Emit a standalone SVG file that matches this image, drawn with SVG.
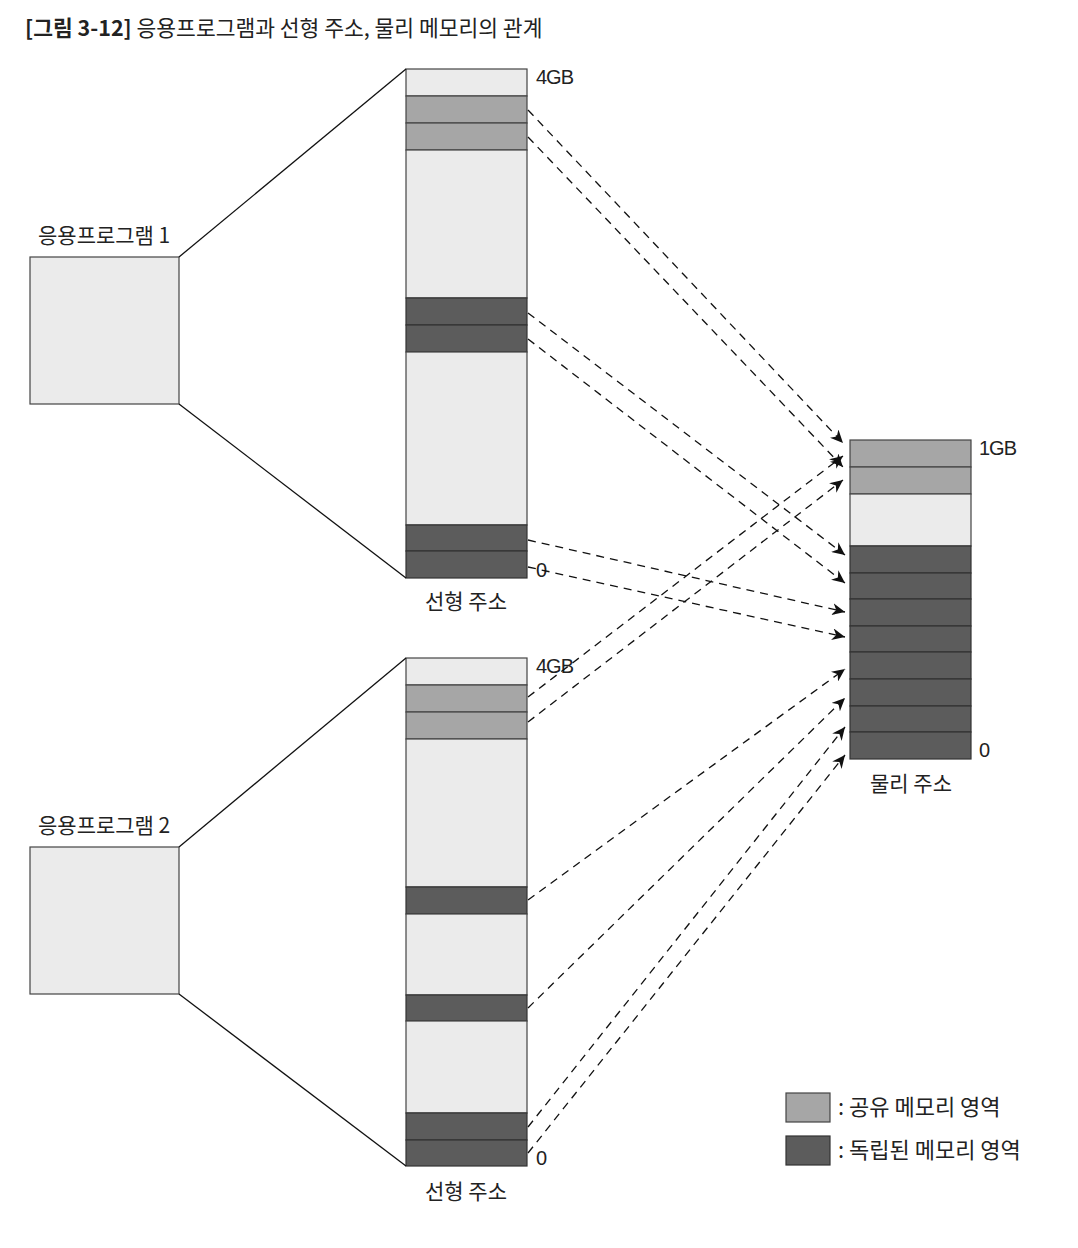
<svg xmlns="http://www.w3.org/2000/svg" width="1078" height="1248" viewBox="0 0 1078 1248">
<defs>
<style>
.t{font-family:"Noto Sans CJK KR","Noto Sans",sans-serif;font-size:21px;fill:#222;}
.n{font-family:"Liberation Sans","Noto Sans",sans-serif;font-size:20px;fill:#222;letter-spacing:-1px;}
.lt{fill:#ebebeb;stroke:#444;stroke-width:1.2;}
.md{fill:#a6a6a6;stroke:#444;stroke-width:1.2;}
.dk{fill:#5c5c5c;stroke:#333;stroke-width:1.2;}
.ln{stroke:#111;stroke-width:1.3;fill:none;}
.da{stroke:#111;stroke-width:1.3;fill:none;stroke-dasharray:8 6;marker-end:url(#ah);}
</style>
<marker id="ah" markerWidth="14" markerHeight="12" refX="13" refY="6" orient="auto" markerUnits="userSpaceOnUse">
<path d="M0,0 L13,6 L0,12 L4,6 Z" fill="#111"/>
</marker>
</defs>
<rect width="1078" height="1248" fill="#fff"/>
<text x="25" y="36" class="t" style="font-size:21.5px"><tspan font-weight="bold">[그림 3-12]</tspan> 응용프로그램과 선형 주소, 물리 메모리의 관계</text>

<g id="app1">
<rect x="30" y="257" width="149" height="147" class="lt"/>
<text x="38" y="243" class="t">응용프로그램 1</text>
</g>
<g id="app2">
<rect x="30" y="847" width="149" height="147" class="lt"/>
<text x="38" y="833" class="t">응용프로그램 2</text>
</g>

<g id="linear1">
<rect x="406" y="69" width="121" height="27" class="lt"/>
<rect x="406" y="96" width="121" height="27" class="md"/>
<rect x="406" y="123" width="121" height="27" class="md"/>
<rect x="406" y="150" width="121" height="148" class="lt"/>
<rect x="406" y="298" width="121" height="27" class="dk"/>
<rect x="406" y="325" width="121" height="27" class="dk"/>
<rect x="406" y="352" width="121" height="173" class="lt"/>
<rect x="406" y="525" width="121" height="26" class="dk"/>
<rect x="406" y="551" width="121" height="27" class="dk"/>
<text x="536" y="84" class="n">4GB</text>
<text x="536" y="577" class="n">0</text>
<text x="466" y="609" class="t" text-anchor="middle">선형 주소</text>
</g>

<g id="linear2">
<rect x="406" y="658" width="121" height="27" class="lt"/>
<rect x="406" y="685" width="121" height="27" class="md"/>
<rect x="406" y="712" width="121" height="27" class="md"/>
<rect x="406" y="739" width="121" height="148" class="lt"/>
<rect x="406" y="887" width="121" height="27" class="dk"/>
<rect x="406" y="914" width="121" height="81" class="lt"/>
<rect x="406" y="995" width="121" height="26" class="dk"/>
<rect x="406" y="1021" width="121" height="92" class="lt"/>
<rect x="406" y="1113" width="121" height="27" class="dk"/>
<rect x="406" y="1140" width="121" height="26" class="dk"/>
<text x="536" y="673" class="n">4GB</text>
<text x="536" y="1165" class="n">0</text>
<text x="466" y="1199" class="t" text-anchor="middle">선형 주소</text>
</g>

<g id="physical">
<rect x="850" y="440" width="121" height="27" class="md"/>
<rect x="850" y="467" width="121" height="27" class="md"/>
<rect x="850" y="494" width="121" height="52" class="lt"/>
<rect x="850" y="546" width="121" height="27" class="dk"/>
<rect x="850" y="573" width="121" height="26" class="dk"/>
<rect x="850" y="599" width="121" height="27" class="dk"/>
<rect x="850" y="626" width="121" height="26" class="dk"/>
<rect x="850" y="652" width="121" height="27" class="dk"/>
<rect x="850" y="679" width="121" height="27" class="dk"/>
<rect x="850" y="706" width="121" height="26" class="dk"/>
<rect x="850" y="732" width="121" height="27" class="dk"/>
<text x="979" y="455" class="n">1GB</text>
<text x="979" y="757" class="n">0</text>
<text x="911" y="791" class="t" text-anchor="middle">물리 주소</text>
</g>

<g id="legend">
<rect x="786" y="1093" width="44" height="29" class="md"/>
<text x="838" y="1115" class="t" style="font-size:22px">: 공유 메모리 영역</text>
<rect x="786" y="1136" width="44" height="29" class="dk"/>
<text x="838" y="1158" class="t" style="font-size:22px">: 독립된 메모리 영역</text>
</g>

<g id="connectors">
<line x1="179" y1="257" x2="406" y2="69" class="ln"/>
<line x1="179" y1="404" x2="406" y2="578" class="ln"/>
<line x1="179" y1="847" x2="406" y2="658" class="ln"/>
<line x1="179" y1="994" x2="406" y2="1166" class="ln"/>
<line x1="528" y1="110" x2="843" y2="443" class="da"/>
<line x1="528" y1="137" x2="843" y2="467" class="da"/>
<line x1="528" y1="313" x2="845" y2="555" class="da"/>
<line x1="528" y1="339" x2="845" y2="583" class="da"/>
<line x1="528" y1="540" x2="845" y2="612" class="da"/>
<line x1="528" y1="567" x2="845" y2="637" class="da"/>
<line x1="528" y1="697" x2="843" y2="456" class="da"/>
<line x1="528" y1="722" x2="843" y2="480" class="da"/>
<line x1="528" y1="900" x2="845" y2="669" class="da"/>
<line x1="528" y1="1008" x2="845" y2="698" class="da"/>
<line x1="528" y1="1127" x2="845" y2="727" class="da"/>
<line x1="528" y1="1153" x2="845" y2="755" class="da"/>
</g>
</svg>
